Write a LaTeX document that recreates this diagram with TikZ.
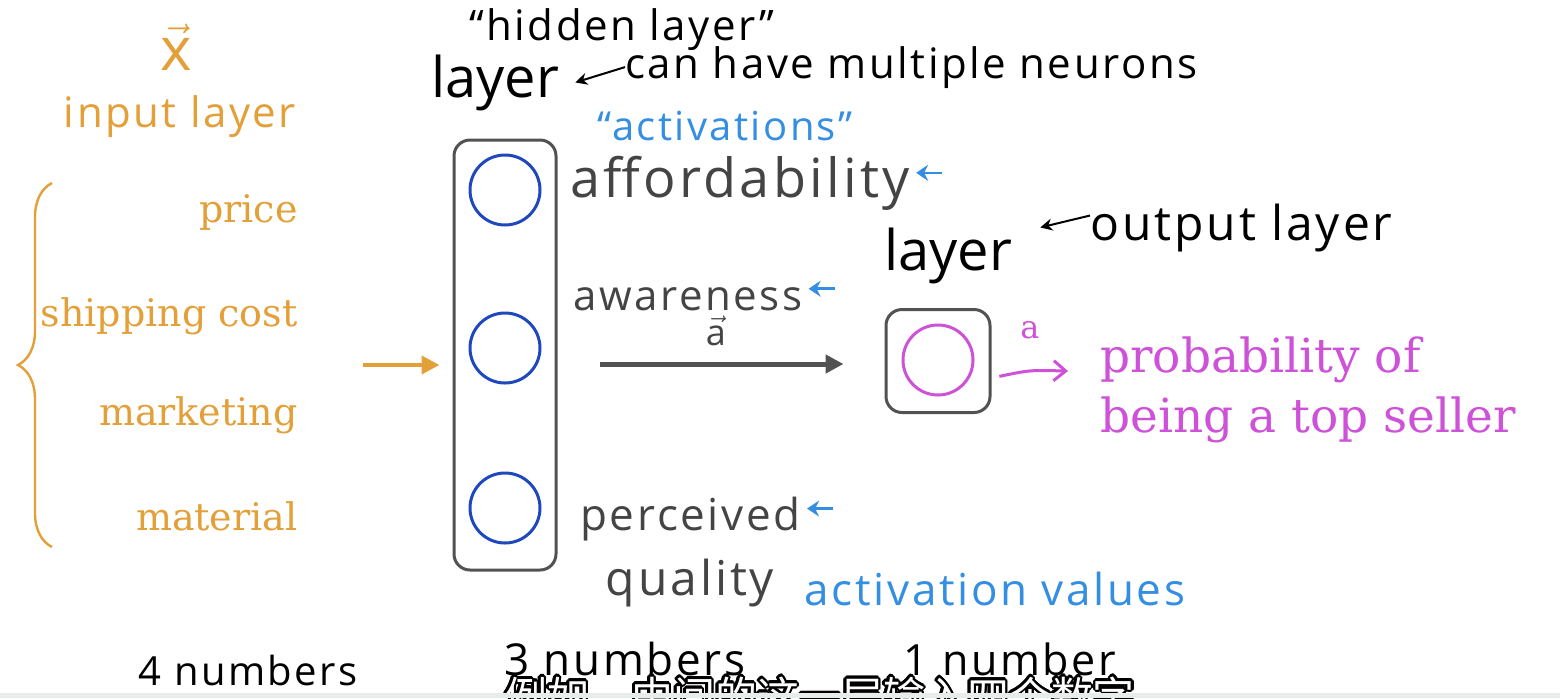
\documentclass[tikz,border=0pt]{standalone}
\usepackage{fontspec}
\usepackage{contour}
\usetikzlibrary{arrows.meta,decorations.pathreplacing,positioning}
\newfontfamily\handfont{Open Sans}[LetterSpace=6]
\newfontfamily\seriffont{DejaVu Serif}
\newfontfamily\cjkfont{Noto Sans CJK SC}
\newfontfamily\layerfont{Open Sans}
\definecolor{inorange}{RGB}{228,160,56}
\definecolor{neuronblue}{RGB}{32,72,190}
\definecolor{noteblue}{RGB}{52,142,226}
\definecolor{outmagenta}{RGB}{206,82,216}
\definecolor{boxgrey}{RGB}{82,82,82}
\definecolor{inkgrey}{RGB}{68,68,68}
\definecolor{stripgrey}{RGB}{232,236,236}
\contourlength{1.1pt}
\tikzset{
	hand/.style={font=\handfont\fontsize{#1}{#1}\selectfont, inner sep=0pt, anchor=base},
	feature/.style={font=\seriffont\fontsize{19}{19}\selectfont, text=inorange, inner sep=0pt, anchor=base east},
	result/.style={font=\seriffont\fontsize{23.5}{23.5}\selectfont, text=outmagenta, inner sep=0pt, anchor=base west},
	layerword/.style={font=\layerfont\fontsize{28}{28}\selectfont, inner sep=0pt, anchor=base},
	layerbox/.style={draw=boxgrey, line width=1.5pt, rounded corners=8pt, minimum width=#1},
	neuron/.style={circle, draw=#1, line width=1.5pt, minimum size=35pt, inner sep=0pt},
	notearrow/.style={noteblue, line width=1.3pt, -{Stealth[length=6pt,width=8pt,inset=2pt]}},
	inkarrow/.style={black, line width=1pt, -{Stealth[length=6pt,width=6pt]}}
}
\begin{document}
\begin{tikzpicture}[x=0.5pt,y=-0.5pt]
	\useasboundingbox (0,0) rectangle (1560,698);
	\clip (0,0) rectangle (1560,698);
	\fill[white] (0,0) rectangle (1560,698);

	\node[hand=30, text=inorange] (xvec) at (176,70) {$\vec{\hbox{x}}$};
	\node[hand=21, text=inorange] (inlabel) at (180,127) {input layer};
	\node[feature] (price) at (298,222) {price};
	\node[feature] (ship) at (298,326) {shipping cost};
	\node[feature] (mkt) at (298,425) {marketing};
	\node[feature] (mat) at (298,530) {material};
	\draw[inorange, line width=1.2pt, decorate, decoration={brace, amplitude=17pt}] (52,547) -- (52,183);

	\node[layerbox=51pt, minimum height=215pt] (hbox) at (505,355) {};
	\node[neuron=neuronblue] (n1) at (505,190) {};
	\node[neuron=neuronblue] (n2) at (505,348) {};
	\node[neuron=neuronblue] (n3) at (505,508) {};
	\coordinate (ina) at (363,365);
	\draw[inorange, line width=2pt, -{Triangle[length=9pt,width=9pt]}, shorten >=6.5pt] (ina) -- (hbox.west |- ina);

	\node[hand=21] (hidq) at (622,40) {“hidden layer”};
	\node[layerword] (hlayer) at (495,97) {layer};
	\node[hand=21, anchor=base west] (multi) at (625,78) {can have multiple neurons};
	\draw[inkarrow] (multi.west) -- ([xshift=8pt]hlayer.east);

	\node[hand=20, text=noteblue] (actq) at (725,140) {“activations”};
	\node[hand=27, text=inkgrey, anchor=base west] (aff) at (570,197) {affordability};
	\node[hand=21, text=inkgrey, anchor=base west] (awa) at (573,310) {awareness};
	\node[hand=22, text=inkgrey, anchor=base west] (perc) at (580,530) {perceived};
	\node[hand=24, text=inkgrey] (qual) at (690,595) {quality};
	\coordinate[right=16pt of aff.east] (affarr);
	\coordinate[right=16pt of awa.east] (awaarr);
	\coordinate[right=16pt of perc.east] (percarr);
	\draw[notearrow] ([yshift=5pt]affarr) -- ([xshift=3pt,yshift=5pt]aff.east);
	\draw[notearrow] ([yshift=5pt]awaarr) -- ([xshift=3pt,yshift=5pt]awa.east);
	\draw[notearrow] ([yshift=5pt]percarr) -- ([xshift=3pt,yshift=5pt]perc.east);
	\node[hand=22, text=noteblue] (actval) at (995,605) {activation values};

	\node[layerbox=52pt, minimum height=51.5pt] (obox) at (938,361) {};
	\node[neuron=outmagenta] (nout) at (938,360) {};
	\coordinate (hout) at (hbox.east |- 0,364);
	\draw[boxgrey, line width=2.5pt, -{Triangle[length=9pt,width=9pt]}, shorten <=21pt, shorten >=20.5pt] (hout) -- (obox.west |- hout);
	\node[hand=18, text=inkgrey] (avec) at (716,345) {$\vec{\hbox{a}}$};

	\node[layerword] (olayer) at (948,270) {layer};
	\node[hand=24, anchor=base west] (outl) at (1090,240) {output layer};
	\draw[inkarrow] ([yshift=6pt]outl.west) -- ([xshift=14pt,yshift=14pt]olayer.east);

	\node[result] (prob) at (1100,372) {probability of};
	\node[result] (top) at (1100,432) {being a top seller};
	\node[font=\seriffont\fontsize{16}{16}\selectfont, text=outmagenta, inner sep=0pt] (aout) at (1030,330) {a};
	\draw[outmagenta, line width=1.5pt, -{Straight Barb[length=6pt,width=10pt]}, shorten <=4pt, shorten >=16pt] (obox.east |- 0,378) .. controls (1030,370) .. (prob.west |- 0,372);

	\node[hand=20] (four) at (248,685) {4 numbers};
	\node[hand=22] (three) at (625,675) {3 numbers};
	\node[hand=21.5] (one) at (1010,675) {1 number};

	\node[font=\cjkfont\fontsize{21}{21}\selectfont, inner sep=0pt, anchor=base] (sub) at (820,712) {\contour{black}{\textcolor{white}{例如，中间的这一层输入四个数字}}};
	\fill[stripgrey] (0,693) rectangle (1560,698);
\end{tikzpicture}
\end{document}
